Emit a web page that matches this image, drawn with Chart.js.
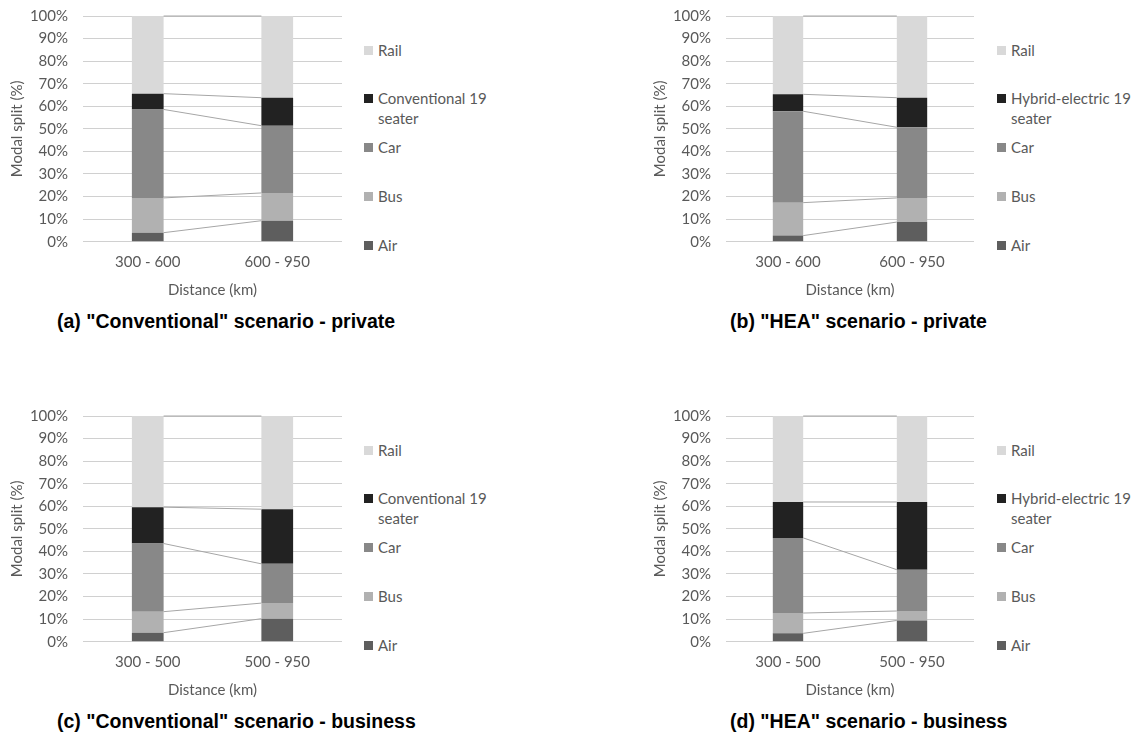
<!DOCTYPE html>
<html>
<head>
<meta charset="utf-8">
<script src="https://cdn.jsdelivr.net/npm/chart.js@4.4.1/dist/chart.umd.min.js"></script>
<style>
  body { margin: 0; background: #fff; width: 1137px; height: 755px; position: relative; overflow: hidden; font-family: Lato, sans-serif; }
  .panel { position: absolute; }
  .legend { position: absolute; color: #595959; font-size: 15px; }
  .item { position: absolute; left: 0; white-space: nowrap; line-height: 20px; padding-left: 14px; }
  .sw { position: absolute; left: 0; top: 6px; width: 9px; height: 9px; box-sizing: border-box; }
  .caption { position: absolute; font-family: "Liberation Sans", Arial, sans-serif; font-weight: bold; font-size: 19.5px; color: #000; line-height: 22px; white-space: nowrap; }
</style>
</head>
<body>
<script>
// distance bands
const privateRanges = ['300 - 600', '600 - 950'];
const businessRanges = ['300 - 500', '500 - 950'];

// series names (bottom to top of each bar)
const convModes = ['Air', 'Bus', 'Car', 'Conventional 19 seater', 'Rail'];
const heaModes = ['Air', 'Bus', 'Car', 'Hybrid-electric 19 seater', 'Rail'];

// (a) conventional - private, modal split %
const convPrivateAir = [4.0, 9.3];
const convPrivateBus = [15.4, 12.3];
const convPrivateCar = [39.2, 29.8];
const convPrivatePlane = [7.0, 12.4];
const convPrivateRail = [34.4, 36.2];

// (b) HEA - private
const heaPrivateAir = [2.7, 8.7];
const heaPrivateBus = [14.6, 10.7];
const heaPrivateCar = [40.5, 31.3];
const heaPrivatePlane = [7.5, 13.1];
const heaPrivateRail = [34.7, 36.2];

// (c) conventional - business
const convBusinessAir = [4.0, 10.2];
const convBusinessBus = [9.3, 6.9];
const convBusinessCar = [30.2, 17.4];
const convBusinessPlane = [16.1, 24.2];
const convBusinessRail = [40.4, 41.3];

// (d) HEA - business
const heaBusinessAir = [3.7, 9.4];
const heaBusinessBus = [9.0, 4.2];
const heaBusinessCar = [33.3, 18.3];
const heaBusinessPlane = [15.9, 30.0];
const heaBusinessRail = [38.1, 38.1];

const yTicks = [0, 10, 20, 30, 40, 50, 60, 70, 80, 90, 100];

const modeColors = ['#5e5e5e', '#b1b1b1', '#888888', '#222222', '#d9d9d9'];

// layout of the four panels
const panels = [
  { left: 0,   top: 0,   plotW: 259, labels: privateRanges,  modes: convModes, legendX: 364, capX: 57,
    values: [convPrivateAir, convPrivateBus, convPrivateCar, convPrivatePlane, convPrivateRail],
    caption: '(a) "Conventional" scenario - private' },
  { left: 643, top: 0,   plotW: 248, labels: privateRanges,  modes: heaModes,  legendX: 997, capX: 730,
    values: [heaPrivateAir, heaPrivateBus, heaPrivateCar, heaPrivatePlane, heaPrivateRail],
    caption: '(b) "HEA" scenario - private' },
  { left: 0,   top: 400, plotW: 259, labels: businessRanges, modes: convModes, legendX: 364, capX: 57,
    values: [convBusinessAir, convBusinessBus, convBusinessCar, convBusinessPlane, convBusinessRail],
    caption: '(c) "Conventional" scenario - business' },
  { left: 643, top: 400, plotW: 248, labels: businessRanges, modes: heaModes,  legendX: 997, capX: 730,
    values: [heaBusinessAir, heaBusinessBus, heaBusinessCar, heaBusinessPlane, heaBusinessRail],
    caption: '(d) "HEA" scenario - business' }
];

const AXIS_W = 83, PLOT_TOP = 16, PLOT_BOTTOM = 241.7, PANEL_H = 310;

Chart.defaults.font.family = 'Lato, sans-serif';
Chart.defaults.font.size = 15;
Chart.defaults.color = '#595959';

// thin grey lines joining the tops of matching segments (Excel "series lines")
const seriesLines = {
  id: 'seriesLines',
  afterDatasetsDraw(chart) {
    const ctx = chart.ctx;
    ctx.save();
    ctx.strokeStyle = '#a6a6a6';
    ctx.lineWidth = 1;
    chart.data.datasets.forEach((ds, i) => {
      const bars = chart.getDatasetMeta(i).data;
      for (let j = 0; j < bars.length - 1; j++) {
        const a = bars[j], b = bars[j + 1];
        ctx.beginPath();
        ctx.moveTo(a.x + a.width / 2, a.y);
        ctx.lineTo(b.x - b.width / 2, b.y);
        ctx.stroke();
      }
    });
    ctx.restore();
  }
};

panels.forEach(p => {
  const box = document.createElement('div');
  box.className = 'panel';
  box.style.left = p.left + 'px';
  box.style.top = p.top + 'px';
  const canvas = document.createElement('canvas');
  canvas.width = AXIS_W + p.plotW;
  canvas.height = PANEL_H;
  box.appendChild(canvas);
  document.body.appendChild(box);

  new Chart(canvas, {
    type: 'bar',
    data: {
      labels: p.labels,
      datasets: p.modes.map((m, i) => ({
        label: m,
        data: p.values[i],
        backgroundColor: modeColors[i],
        borderWidth: 0,
        categoryPercentage: 1,
        barPercentage: 0.245
      }))
    },
    options: {
      responsive: false,
      devicePixelRatio: 1,
      animation: false,
      layout: { padding: { top: PLOT_TOP, right: 0, bottom: 0, left: 0 } },
      plugins: { legend: { display: false }, tooltip: { enabled: false } },
      scales: {
        x: {
          stacked: true,
          grid: { display: false, drawTicks: false },
          border: { display: false },
          ticks: { padding: 11, color: '#595959' },
          title: { display: true, text: 'Distance (km)', color: '#595959', padding: { top: 0, bottom: 11 } },
          afterFit: s => { s.height = PANEL_H - PLOT_BOTTOM; }
        },
        y: {
          stacked: true,
          min: 0, max: 100,
          afterBuildTicks: s => { s.ticks = yTicks.map(v => ({ value: v })); },
          grid: { color: '#d0d0d0', drawTicks: false },
          border: { display: false },
          ticks: { padding: 15, color: '#595959', callback: v => v + '%' },
          title: { display: true, text: 'Modal split (%)', color: '#595959', padding: { top: 8, bottom: 0 } },
          afterFit: s => { s.width = AXIS_W; s.paddingTop = 0; s.paddingBottom = 0; }
        }
      }
    },
    plugins: [seriesLines]
  });

  // legend, top entry first (reverse of stack order)
  const legend = document.createElement('div');
  legend.className = 'legend';
  legend.style.left = p.legendX + 'px';
  legend.style.top = p.top + 'px';
  const rowTops = [40, 88, 137, 186, 235];
  [4, 3, 2, 1, 0].forEach((idx, r) => {
    const item = document.createElement('div');
    item.className = 'item';
    item.style.top = rowTops[r] + 'px';
    item.innerHTML = '<span class="sw" style="background:' + modeColors[idx] + '"></span>' +
      p.modes[idx].replace(' seater', '<br>seater');
    legend.appendChild(item);
  });
  document.body.appendChild(legend);

  const cap = document.createElement('div');
  cap.className = 'caption';
  cap.style.left = p.capX + 'px';
  cap.style.top = (p.top + 310) + 'px';
  cap.textContent = p.caption;
  document.body.appendChild(cap);
});
</script>
</body>
</html>
